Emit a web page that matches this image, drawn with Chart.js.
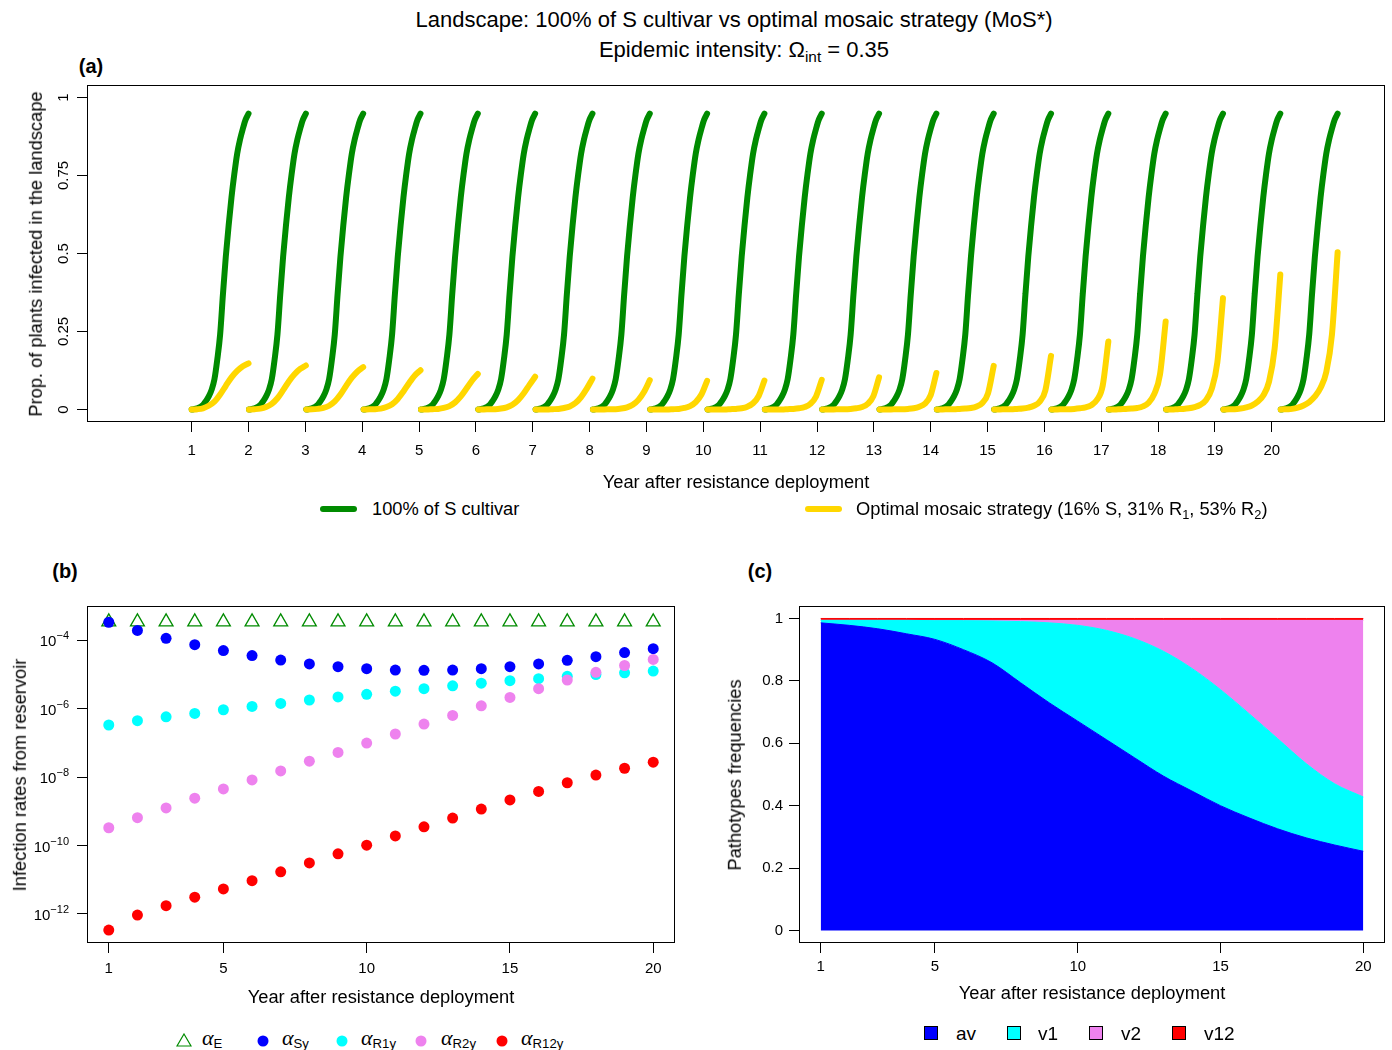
<!DOCTYPE html>
<html>
<head>
<meta charset="utf-8">
<title>Landscape: 100% of S cultivar vs optimal mosaic strategy (MoS*)</title>
<script src="https://cdn.jsdelivr.net/npm/chart.js@4.4.1/dist/chart.umd.min.js"></script>
<style>
  html, body { margin: 0; padding: 0; background: #fff; }
  #page { position: relative; width: 1392px; height: 1050px; overflow: hidden;
          font-family: "Liberation Sans", Arial, Helvetica, sans-serif; color: #000; }
  #page canvas { position: absolute; }
  .txt { position: absolute; white-space: nowrap; line-height: 1; transform: translate(-50%, -50%); }
  .left { transform: translate(0, -50%); }
  .rot { transform: translate(-50%, -50%) rotate(-90deg); }
  .lab { font-weight: bold; font-size: 20px; }
  .ax { font-size: 18.3px; }
  .ttl { font-size: 22px; }
  sub { font-size: 70%; vertical-align: -0.35em; line-height: 0; }
  .leg sub { font-size: 72%; vertical-align: -0.25em; }
  .alpha { font-family: "Liberation Serif", "DejaVu Serif", serif; font-style: italic; font-size: 22px; }
  .dot { position: absolute; width: 11px; height: 11px; border-radius: 50%; transform: translate(-50%, -50%); }
  .sq { position: absolute; width: 14px; height: 14px; border: 1px solid #000; box-sizing: border-box; transform: translate(-50%, -50%); }
  .ln { position: absolute; height: 6px; border-radius: 3px; transform: translateY(-50%); }
</style>
</head>
<body>
<div id="page">
  <canvas id="chartA" width="1392" height="400" style="left:0;top:80px"></canvas>
  <canvas id="chartB" width="700" height="430" style="left:0;top:590px"></canvas>
  <canvas id="chartC" width="692" height="430" style="left:700px;top:590px"></canvas>

  <div class="txt ttl" style="left:734px;top:20px">Landscape: 100% of S cultivar vs optimal mosaic strategy (MoS*)</div>
  <div class="txt ttl" style="left:744px;top:50px">Epidemic intensity: Ω<sub>int</sub> = 0.35</div>
  <div class="txt lab" style="left:91px;top:66px">(a)</div>
  <div class="txt lab" style="left:65px;top:571px">(b)</div>
  <div class="txt lab" style="left:760px;top:571px">(c)</div>

  <!-- (a) -->
  <div class="txt rot ax" style="left:36px;top:254px">Prop. of plants infected in the landscape</div>
  <div class="txt ax" style="left:736px;top:482px">Year after resistance deployment</div>
  <div class="ln" style="left:320px;top:509px;width:37px;background:#008B00"></div>
  <div class="txt left ax" style="left:372px;top:509px">100% of S cultivar</div>
  <div class="ln" style="left:805px;top:509px;width:37px;background:#FFD700"></div>
  <div class="txt left ax" style="left:856px;top:509px">Optimal mosaic strategy (16% S, 31% R<sub>1</sub>, 53% R<sub>2</sub>)</div>

  <!-- (b) -->
  <div class="txt rot ax" style="left:20px;top:775px">Infection rates from reservoir</div>
  <div class="txt ax" style="left:381px;top:997px">Year after resistance deployment</div>
  <svg style="position:absolute;left:176px;top:1033px" width="16" height="14">
    <polygon points="8,1 15,13 1,13" fill="none" stroke="#008B00" stroke-width="1.2"/>
  </svg>
  <div class="txt left ax leg" style="left:202px;top:1038px"><span class="alpha">α</span><sub>E</sub></div>
  <div class="dot" style="left:263px;top:1041px;background:#0000FF"></div>
  <div class="txt left ax leg" style="left:282px;top:1038px"><span class="alpha">α</span><sub>Sy</sub></div>
  <div class="dot" style="left:342px;top:1041px;background:#00FFFF"></div>
  <div class="txt left ax leg" style="left:361px;top:1038px"><span class="alpha">α</span><sub>R1y</sub></div>
  <div class="dot" style="left:421px;top:1041px;background:#EE82EE"></div>
  <div class="txt left ax leg" style="left:441px;top:1038px"><span class="alpha">α</span><sub>R2y</sub></div>
  <div class="dot" style="left:502px;top:1041px;background:#FF0000"></div>
  <div class="txt left ax leg" style="left:521px;top:1038px"><span class="alpha">α</span><sub>R12y</sub></div>

  <!-- (c) -->
  <div class="txt rot ax" style="left:735px;top:775px">Pathotypes frequencies</div>
  <div class="txt ax" style="left:1092px;top:993px">Year after resistance deployment</div>
  <div class="sq" style="left:931px;top:1033px;background:#0000FF"></div>
  <div class="txt left" style="left:956px;top:1033px;font-size:19px">av</div>
  <div class="sq" style="left:1014px;top:1033px;background:#00FFFF"></div>
  <div class="txt left" style="left:1038px;top:1033px;font-size:19px">v1</div>
  <div class="sq" style="left:1096px;top:1033px;background:#EE82EE"></div>
  <div class="txt left" style="left:1121px;top:1033px;font-size:19px">v2</div>
  <div class="sq" style="left:1179px;top:1033px;background:#FF0000"></div>
  <div class="txt left" style="left:1204px;top:1033px;font-size:19px">v12</div>
</div>

<script>
// ==================================
// Data
// ==================================
const years = [1, 2, 3, 4, 5, 6, 7, 8, 9, 10, 11, 12, 13, 14, 15, 16, 17, 18, 19, 20];

// (a) prop. of infected plants inside one season, read at these time steps
const stepsPerSeason = 120;
const susceptibleSteps = [0, 12, 24, 30, 36, 42, 48, 54, 60, 66, 72, 78, 84, 90, 96, 102, 108, 114, 120];
const susceptibleSeason = [0, 0.004, 0.015, 0.027, 0.042, 0.063, 0.097, 0.16, 0.24, 0.37, 0.49, 0.59, 0.68, 0.755, 0.82, 0.865, 0.9, 0.93, 0.948];
const mosaicSteps = [0, 12, 24, 36, 48, 60, 72, 84, 96, 108, 120];
const mosaicSeasons = [
  [0, 0.001, 0.004, 0.012, 0.025, 0.048, 0.076, 0.103, 0.124, 0.139, 0.148],
  [0, 0.001, 0.003, 0.008, 0.018, 0.036, 0.062, 0.09, 0.113, 0.13, 0.141],
  [0, 0.0005, 0.002, 0.005, 0.012, 0.026, 0.048, 0.076, 0.102, 0.122, 0.136],
  [0, 0.0005, 0.001, 0.003, 0.008, 0.017, 0.034, 0.058, 0.085, 0.109, 0.126],
  [0, 0, 0.001, 0.002, 0.005, 0.011, 0.023, 0.042, 0.067, 0.093, 0.114],
  [0, 0, 0.001, 0.001, 0.003, 0.007, 0.015, 0.03, 0.052, 0.079, 0.105],
  [0, 0, 0, 0.001, 0.002, 0.005, 0.01, 0.021, 0.04, 0.067, 0.099],
  [0, 0, 0, 0.001, 0.001, 0.003, 0.007, 0.015, 0.031, 0.057, 0.094],
  [0, 0, 0, 0, 0.001, 0.002, 0.005, 0.011, 0.024, 0.048, 0.092],
  [0, 0, 0, 0, 0.001, 0.002, 0.004, 0.009, 0.02, 0.044, 0.093],
  [0, 0, 0, 0, 0.001, 0.002, 0.004, 0.008, 0.018, 0.042, 0.095],
  [0, 0, 0, 0.001, 0.001, 0.002, 0.004, 0.008, 0.018, 0.043, 0.103],
  [0, 0, 0, 0.001, 0.001, 0.002, 0.004, 0.009, 0.019, 0.046, 0.117],
  [0, 0, 0.001, 0.001, 0.002, 0.003, 0.005, 0.01, 0.021, 0.052, 0.14],
  [0, 0, 0.001, 0.001, 0.002, 0.003, 0.006, 0.012, 0.025, 0.061, 0.172],
  [0, 0, 0.001, 0.001, 0.002, 0.004, 0.007, 0.014, 0.031, 0.076, 0.218],
  [0, 0, 0.001, 0.002, 0.003, 0.005, 0.01, 0.022, 0.05, 0.112, 0.282],
  [0, 0, 0.001, 0.002, 0.004, 0.008, 0.015, 0.03, 0.065, 0.15, 0.357],
  [0, 0.001, 0.001, 0.003, 0.007, 0.013, 0.025, 0.045, 0.088, 0.195, 0.433],
  [0, 0.001, 0.002, 0.006, 0.013, 0.024, 0.042, 0.07, 0.12, 0.24, 0.504],
];
const propTickValues = [0, 0.25, 0.5, 0.75, 1];
const propTickLabels = ["0", "0.25", "0.5", "0.75", "1"];

// (b) infection rates from reservoir
const alphaE = [3.4e-4, 3.4e-4, 3.4e-4, 3.4e-4, 3.4e-4, 3.4e-4, 3.4e-4, 3.4e-4, 3.4e-4, 3.4e-4,
                3.4e-4, 3.4e-4, 3.4e-4, 3.4e-4, 3.4e-4, 3.4e-4, 3.4e-4, 3.4e-4, 3.4e-4, 3.4e-4];
const alphaSy = [3.3e-4, 1.9e-4, 1.12e-4, 7.3e-5, 4.9e-5, 3.5e-5, 2.6e-5, 2.0e-5, 1.67e-5, 1.45e-5,
                 1.33e-5, 1.3e-5, 1.33e-5, 1.45e-5, 1.67e-5, 2.0e-5, 2.55e-5, 3.25e-5, 4.3e-5, 5.6e-5];
const alphaR1y = [3.3e-7, 4.4e-7, 5.7e-7, 7.2e-7, 9.2e-7, 1.15e-6, 1.41e-6, 1.77e-6, 2.18e-6, 2.6e-6,
                  3.2e-6, 3.8e-6, 4.6e-6, 5.5e-6, 6.5e-6, 7.4e-6, 8.7e-6, 9.8e-6, 1.1e-5, 1.24e-5];
const alphaR2y = [3.3e-10, 6.5e-10, 1.25e-9, 2.4e-9, 4.5e-9, 8.2e-9, 1.5e-8, 2.9e-8, 5.2e-8, 9.8e-8,
                  1.8e-7, 3.5e-7, 6.3e-7, 1.2e-6, 2.1e-6, 3.8e-6, 6.8e-6, 1.14e-5, 1.8e-5, 2.7e-5];
const alphaR12y = [3.4e-13, 9.3e-13, 1.75e-12, 3.1e-12, 5.4e-12, 9.4e-12, 1.7e-11, 3.1e-11, 5.7e-11, 1.02e-10,
                   1.9e-10, 3.5e-10, 6.3e-10, 1.16e-9, 2.14e-9, 3.8e-9, 6.8e-9, 1.14e-8, 1.8e-8, 2.7e-8];
const logTickValues = [1e-12, 1e-10, 1e-8, 1e-6, 1e-4];
const logTickExponents = ["−12", "−10", "−8", "−6", "−4"];
const yearTicks = [1, 5, 10, 15, 20];

// (c) pathotype frequencies
const freqAv = [0.986, 0.978, 0.967, 0.951, 0.933, 0.9, 0.858, 0.794, 0.73, 0.671,
                0.612, 0.553, 0.495, 0.447, 0.4, 0.361, 0.326, 0.297, 0.274, 0.254];
const freqV1 = [0.008, 0.016, 0.027, 0.043, 0.06, 0.093, 0.134, 0.196, 0.256, 0.307,
                0.35, 0.382, 0.4, 0.393, 0.372, 0.334, 0.289, 0.238, 0.196, 0.174];
const freqV2 = [0, 0, 0, 0, 0.001, 0.001, 0.002, 0.004, 0.008, 0.016,
                0.032, 0.059, 0.099, 0.154, 0.222, 0.299, 0.379, 0.459, 0.524, 0.566];
const freqV12 = [0.006, 0.006, 0.006, 0.006, 0.006, 0.006, 0.006, 0.006, 0.006, 0.006,
                 0.006, 0.006, 0.006, 0.006, 0.006, 0.006, 0.006, 0.006, 0.006, 0.006];
const freqTickValues = [0, 0.2, 0.4, 0.6, 0.8, 1];
const freqTickLabels = ["0", "0.2", "0.4", "0.6", "0.8", "1"];

// ==================================
// Helpers
// ==================================
const FONT = '"Liberation Sans", Arial, Helvetica, sans-serif';
const tickFont = { family: FONT, size: 15 };

// one season after the other, 1 step apart, broken by a null point
function seasonPoints(steps, seasonValues) {
  const pts = [];
  years.forEach((year, k) => {
    const start = k * (stepsPerSeason + 1);
    const vals = seasonValues(k);
    steps.forEach((s, j) => pts.push({ x: start + s, y: vals[j] }));
    pts.push({ x: start + stepsPerSeason + 0.5, y: null });
  });
  return pts;
}

const byYear = (arr) => years.map((yr, i) => ({ x: yr, y: arr[i] }));

// R-like box around the plot region
const boxPlugin = {
  id: "box",
  afterDraw(chart) {
    const { ctx, chartArea: a } = chart;
    ctx.save();
    ctx.strokeStyle = "#000";
    ctx.lineWidth = 1;
    ctx.strokeRect(Math.round(a.left) + 0.5, Math.round(a.top) + 0.5,
                   Math.round(a.width) - 1, Math.round(a.height) - 1);
    ctx.restore();
  },
};

// axis with outward tick marks only
function axis(extra) {
  return Object.assign({
    grid: { display: true, drawOnChartArea: false, drawTicks: true, tickLength: 10, color: "#000", lineWidth: 1 },
    border: { display: false },
  }, extra);
}

const baseOptions = {
  responsive: false,
  animation: false,
  events: [],
  plugins: { legend: { display: false }, tooltip: { enabled: false } },
};

// ==================================
// (a) infected plants per season
// ==================================
new Chart(document.getElementById("chartA"), {
  type: "line",
  data: {
    datasets: [
      {
        label: "Optimal mosaic strategy",
        data: seasonPoints(mosaicSteps, (k) => mosaicSeasons[k]),
        borderColor: "#FFD700",
        order: 0,
      },
      {
        label: "100% of S cultivar",
        data: seasonPoints(susceptibleSteps, () => susceptibleSeason),
        borderColor: "#008B00",
        order: 1,
      },
    ],
  },
  options: {
    ...baseOptions,
    layout: { padding: { left: 0, right: 7, top: 5, bottom: 0 } },
    spanGaps: false,
    elements: {
      point: { radius: 0 },
      line: { borderWidth: 6, cubicInterpolationMode: "monotone", borderCapStyle: "round", borderJoinStyle: "round" },
    },
    scales: {
      x: axis({
        type: "linear",
        min: -221,
        max: 2519,
        afterFit: (s) => { s.height = 58; },
        afterBuildTicks: (s) => { s.ticks = years.map((yr) => ({ value: (yr - 1) * stepsPerSeason })); },
        ticks: { font: tickFont, color: "#000", padding: 10, maxRotation: 0, autoSkip: false,
                 callback: (v, i) => String(years[i]) },
      }),
      y: axis({
        min: -0.04,
        max: 1.04,
        afterFit: (s) => { s.width = 87; },
        afterBuildTicks: (s) => { s.ticks = propTickValues.map((v) => ({ value: v })); },
        ticks: { display: false },
      }),
    },
  },
  plugins: [
    boxPlugin,
    {
      // rotated y tick labels, as in the original
      id: "rotatedYLabels",
      afterDraw(chart) {
        const { ctx } = chart;
        const y = chart.scales.y;
        ctx.save();
        ctx.font = "15px " + FONT;
        ctx.fillStyle = "#000";
        ctx.textAlign = "center";
        ctx.textBaseline = "middle";
        propTickValues.forEach((v, i) => {
          ctx.save();
          ctx.translate(64, y.getPixelForValue(v));
          ctx.rotate(-Math.PI / 2);
          ctx.fillText(propTickLabels[i], 0, 0);
          ctx.restore();
        });
        ctx.restore();
      },
    },
  ],
});

// ==================================
// (b) infection rates from reservoir
// ==================================
new Chart(document.getElementById("chartB"), {
  type: "scatter",
  data: {
    datasets: [
      { label: "αE", data: byYear(alphaE), pointStyle: "triangle", pointRadius: 8,
        borderColor: "#008B00", backgroundColor: "rgba(0,0,0,0)", borderWidth: 1.3, order: 5 },
      { label: "αSy", data: byYear(alphaSy), pointRadius: 5.5, backgroundColor: "#0000FF", borderWidth: 0, order: 4 },
      { label: "αR1y", data: byYear(alphaR1y), pointRadius: 5.5, backgroundColor: "#00FFFF", borderWidth: 0, order: 3 },
      { label: "αR2y", data: byYear(alphaR2y), pointRadius: 5.5, backgroundColor: "#EE82EE", borderWidth: 0, order: 2 },
      { label: "αR12y", data: byYear(alphaR12y), pointRadius: 5.5, backgroundColor: "#FF0000", borderWidth: 0, order: 1 },
    ],
  },
  options: {
    ...baseOptions,
    layout: { padding: { left: 0, right: 25, top: 16, bottom: 0 } },
    scales: {
      x: axis({
        type: "linear",
        min: 0.24,
        max: 20.76,
        afterFit: (s) => { s.height = 77; },
        afterBuildTicks: (s) => { s.ticks = yearTicks.map((v) => ({ value: v })); },
        ticks: { font: tickFont, color: "#000", padding: 7, maxRotation: 0, autoSkip: false,
                 callback: (v, i) => String(yearTicks[i]) },
      }),
      y: axis({
        type: "logarithmic",
        min: Math.pow(10, -12.847),
        max: Math.pow(10, -3.007),
        afterFit: (s) => { s.width = 87; },
        afterBuildTicks: (s) => { s.ticks = logTickValues.map((v) => ({ value: v })); },
        ticks: { display: false },
      }),
    },
  },
  plugins: [
    boxPlugin,
    {
      // "10" with a raised, smaller exponent
      id: "powerLabels",
      afterDraw(chart) {
        const { ctx } = chart;
        const y = chart.scales.y;
        const right = 69;
        ctx.save();
        ctx.fillStyle = "#000";
        ctx.textBaseline = "middle";
        logTickValues.forEach((v, i) => {
          const py = y.getPixelForValue(v);
          ctx.font = "11px " + FONT;
          const expW = ctx.measureText(logTickExponents[i]).width;
          ctx.textAlign = "right";
          ctx.fillText(logTickExponents[i], right, py - 4);
          ctx.font = "15px " + FONT;
          ctx.fillText("10", right - expW, py + 2);
        });
        ctx.restore();
      },
    },
  ],
});

// ==================================
// (c) pathotype frequencies (stacked areas)
// ==================================
const areaSet = (label, arr, color, fill) => ({
  label, data: byYear(arr), fill, backgroundColor: color, borderColor: color,
  borderWidth: 1, pointRadius: 0, cubicInterpolationMode: "monotone",
});

new Chart(document.getElementById("chartC"), {
  type: "line",
  data: {
    datasets: [
      areaSet("av", freqAv, "#0000FF", "origin"),
      areaSet("v1", freqV1, "#00FFFF", "-1"),
      areaSet("v2", freqV2, "#EE82EE", "-1"),
      areaSet("v12", freqV12, "#FF0000", "-1"),
    ],
  },
  options: {
    ...baseOptions,
    layout: { padding: { left: 0, right: 7, top: 16, bottom: 0 } },
    scales: {
      x: axis({
        type: "linear",
        min: 0.24,
        max: 20.76,
        afterFit: (s) => { s.height = 77; },
        afterBuildTicks: (s) => { s.ticks = yearTicks.map((v) => ({ value: v })); },
        ticks: { font: tickFont, color: "#000", padding: 5, maxRotation: 0, autoSkip: false,
                 callback: (v, i) => String(yearTicks[i]) },
      }),
      y: axis({
        stacked: true,
        min: -0.04,
        max: 1.04,
        afterFit: (s) => { s.width = 99; },
        afterBuildTicks: (s) => { s.ticks = freqTickValues.map((v) => ({ value: v })); },
        ticks: { font: tickFont, color: "#000", padding: 6, autoSkip: false,
                 callback: (v, i) => freqTickLabels[i] },
      }),
    },
  },
  plugins: [boxPlugin],
});
</script>
</body>
</html>
